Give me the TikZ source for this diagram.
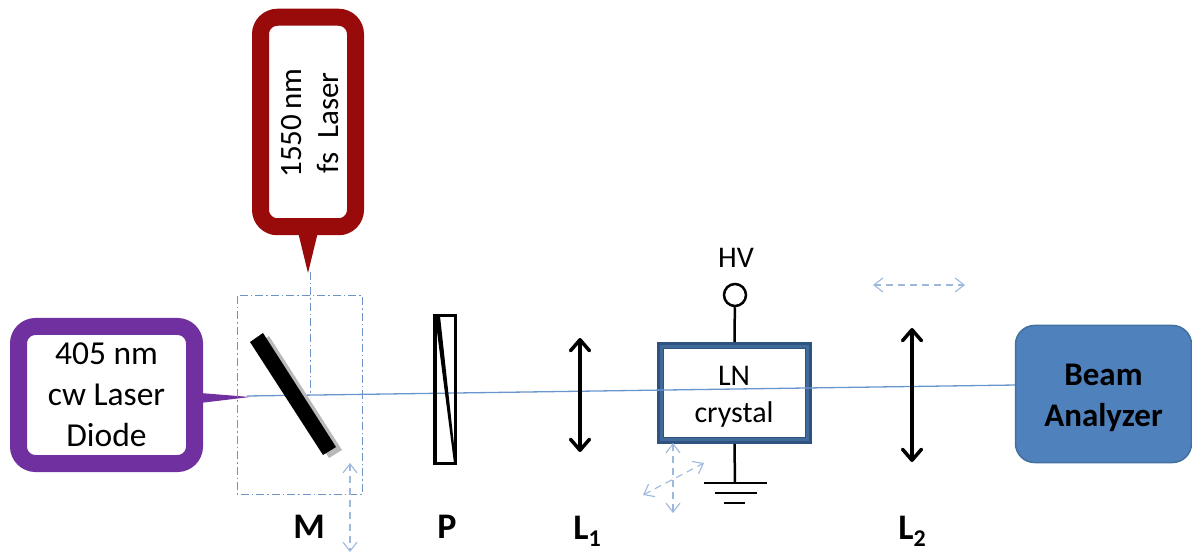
\documentclass[tikz,border=0pt]{standalone}
\usepackage{fontspec}
\setmainfont{Carlito}
\usetikzlibrary{arrows.meta}
\definecolor{purp}{HTML}{7030A0}
\definecolor{dred}{HTML}{990A0A}
\definecolor{beam}{HTML}{6A96CE}
\definecolor{dashcol}{HTML}{9DB7DD}
\definecolor{dashbox}{HTML}{6F94C4}
\definecolor{lnb}{HTML}{2F5380}
\definecolor{lnc}{HTML}{41699A}
\definecolor{ana}{HTML}{4F81BD}
\definecolor{anab}{HTML}{41719C}
\newcommand{\subdigit}[1]{\raisebox{-7pt}{\fontsize{24}{24}\selectfont #1}}
\tikzset{
 x=1pt,y=-1pt,
 lbl/.style={font=\fontsize{30}{37}\selectfont,align=center,inner sep=0pt},
 blbl/.style={font=\fontsize{36}{40}\selectfont\bfseries,inner sep=0pt,anchor=base},
 lens/.style={line width=3.5pt,black,{Straight Barb[length=11pt,width=19pt,round]}-{Straight Barb[length=11pt,width=19pt,round]}},
 dbl/.style={dashcol,line width=1.1pt,dash pattern=on 7pt off 5pt,{Straight Barb[length=9pt,width=14pt]}-{Straight Barb[length=9pt,width=14pt]}},
 wire/.style={line width=2.5pt,black},
 ddot/.style={dashbox,line width=1pt,dash pattern=on 8pt off 3pt on 1.5pt off 3pt},
}
\begin{document}
\begin{tikzpicture}
\useasboundingbox (0,0) rectangle (1192,553);
% crystal
\node[draw=lnb,line width=7pt,fill=white,minimum width=148pt,minimum height=95pt,inner sep=0pt] (xt) at (734.5,393) {};
\node[draw=lnc,line width=3pt,minimum width=146pt,minimum height=93pt,inner sep=0pt] (xt2) at (734.5,393) {};
% beam
\coordinate (b0) at (247,396);
\coordinate (b1) at (1016,385);
\draw[beam,line width=1.3pt] (b0)--(b1);
% purple callout
\fill[purp] (200,393)--(250,397)--(200,403)--cycle;
\node[draw=purp,line width=17pt,fill=white,rounded corners=17pt,minimum width=176pt,minimum height=137pt,inner sep=0pt,font=\fontsize{33.5}{41}\selectfont,align=center] (diode) at (106.5,395) {405 nm\\cw Laser\\Diode};
% red callout
\fill[dred] (298,232)--(318,232)--(308,273)--cycle;
\node[draw=dred,line width=17pt,fill=white,rounded corners=17pt,minimum width=95pt,minimum height=209.5pt,inner sep=0pt] (red) at (308,122) {};
\node[font=\fontsize{31}{37}\selectfont,align=center,inner sep=0pt,rotate=90,anchor=center] (redt) at (310,123) {1550\,nm\\fs\ \ Laser};
% mirror box
\draw[ddot] (237,296) rectangle (362,494);
\coordinate (rv0) at (310,272);
\coordinate (rv1) at (310,395);
\draw[ddot] (rv0)--(rv1);
% mirror
\fill[gray!55] (256,345)--(269,336)--(342,450)--(329,458)--cycle;
\fill[black] (250,342)--(263,333)--(336,447)--(323,455)--cycle;
\coordinate (m1) at (350,463);
\coordinate (m2) at (350,552);
\draw[dbl] (m1)--(m2);
\node[blbl] (M) at (309,538) {M};
% polarizer
\node[draw=black,line width=3.5pt,minimum width=20.5pt,minimum height=147.5pt,inner sep=0pt] (P0) at (445,389.5) {};
\fill[black] (435,316)--(440,316)--(456,463)--(454,463)--cycle;
\node[blbl] (P) at (447,538) {P};
% L1
\coordinate (l1a) at (580,338);
\coordinate (l1b) at (580,452);
\draw[lens] (l1a)--(l1b);
\node[blbl] (L1) at (587,539) {L\subdigit{1}};
% HV
\node[circle,draw=black,line width=2.5pt,fill=white,minimum size=22pt,inner sep=0pt] (hvc) at (735,295) {};
\node[lbl] (hv) at (736,258) {HV};
\draw[wire] (hvc)--(xt.north);
\node[lbl] (xtt) at (734,397) {LN\\crystal};
\coordinate (g0) at (735,483);
\draw[wire] (xt.south)--(g0);
\coordinate (g1l) at (704,483); \coordinate (g1r) at (767,483);
\coordinate (g2l) at (715,493); \coordinate (g2r) at (757,493);
\coordinate (g3l) at (724,503); \coordinate (g3r) at (745,503);
\draw[wire] (g1l)--(g1r);
\draw[wire] (g2l)--(g2r);
\draw[wire] (g3l)--(g3r);
% crystal axes
\coordinate (c1) at (673,443); \coordinate (c2) at (673,513);
\coordinate (c3) at (643,495); \coordinate (c4) at (704,463);
\draw[dbl] (c1)--(c2);
\draw[dbl] (c3)--(c4);
% L2
\coordinate (l2a) at (912,328);
\coordinate (l2b) at (912,462);
\draw[lens] (l2a)--(l2b);
\node[blbl] (L2) at (912,539) {L\subdigit{2}};
\coordinate (d1) at (873,285); \coordinate (d2) at (965,285);
\draw[dbl] (d1)--(d2);
% analyzer
\node[draw=anab,line width=1.5pt,fill=ana,rounded corners=19pt,minimum width=176pt,minimum height=137pt,inner sep=0pt] (ba) at (1103.5,394) {};
\node[font=\fontsize{33}{41}\selectfont\bfseries,align=center,text=black,inner sep=0pt] (bat) at (1103.5,398) {Beam\\Analyzer};
\end{tikzpicture}
\end{document}
